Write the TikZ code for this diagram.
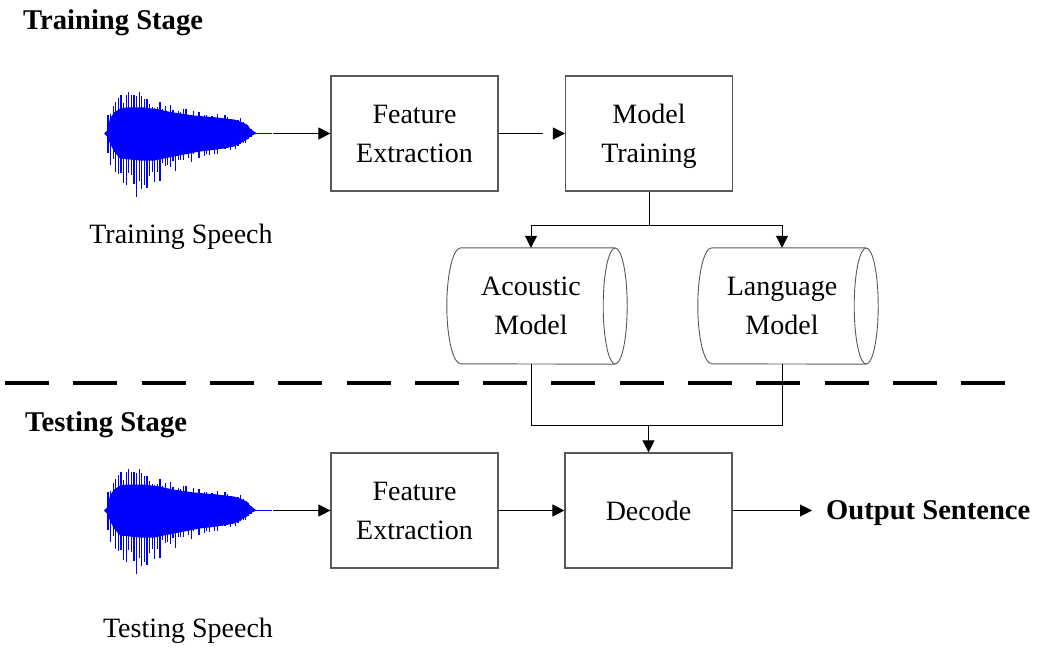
\documentclass[tikz,border=0pt]{standalone}
\usepackage{fontspec}
\setmainfont{Liberation Serif}
\usetikzlibrary{arrows.meta,calc}
\definecolor{wblue}{RGB}{0,0,255}
\tikzset{
 boxnode/.style={draw=black!65, line width=1.2pt, minimum width=167pt, minimum height=115pt, inner sep=0pt, align=center, font=\fontsize{28}{39}\selectfont},
 cylnode/.style={minimum width=140pt, minimum height=116pt, inner sep=0pt, align=center, font=\fontsize{28}{39}\selectfont},
 cylline/.style={draw=black!65, line width=0.9pt},
 conn/.style={line width=1pt, draw=black},
 arr/.style={conn, -{Triangle[length=12pt,width=12pt]}},
 lbl/.style={font=\fontsize{28}{39}\selectfont, inner sep=0pt},
 blbl/.style={font=\fontsize{28.6}{39}\selectfont\bfseries, inner sep=0pt},
 wave/.style={draw=wblue, line width=1.3pt},
 sepline/.style={line width=4pt, dash pattern=on 44pt off 24.3pt},
}
\newcommand\speechwave[2]{%
\begin{scope}[shift={(#1,#2)}]
 \pgfmathsetseed{42}
 \fill[wblue] (0,0) -- (3,-3) -- (6,-15) -- (10,-21) -- (16,-25) -- (22,-26) -- (40,-26) -- (55,-24) -- (69,-21) -- (90,-18) -- (113,-16) -- (130,-14) -- (136,-12) -- (143,-9) -- (146,-5) -- (150,-2) -- (153,0)
   -- (150,1) -- (146,3) -- (143,6) -- (136,10) -- (130,13) -- (113,16) -- (96,18) -- (70,23) -- (50,27) -- (36,27) -- (16,25) -- (10,18) -- (6,10) -- (3,3) -- cycle;
 \foreach \u in {4,6.6,...,150} {
  \pgfmathsetmacro\tp{((\u<33) ? 50*(\u/33)^0.35 : 14+36*exp(-(\u-33)/42))*min(1,(152-\u)/16)}
  \pgfmathsetmacro\bt{((\u<35) ? 68*(\u/35)^0.45 : 10+58*exp(-(\u-40)/42))*min(1,(152-\u)/16)}
  \pgfmathsetmacro\a{\tp*(0.68+0.32*rnd)}
  \pgfmathsetmacro\b{\bt*(0.62+0.38*rnd)}
  \draw[wave] (\u,-\a) -- (\u,\b);
 }
 \draw[wave, line width=0.8pt] (150,0) -- (168,0);
\end{scope}}
\newcommand\cylpath[1]{%
 \draw[cylline] ($(#1.north east)+(14,0)$) -- (#1.north west) arc[start angle=270,end angle=90,x radius=14,y radius=58] -- ($(#1.south east)+(14,0)$);
 \draw[cylline] ($(#1.east)+(14,0)$) ellipse[x radius=12,y radius=58];}
\begin{document}
\begin{tikzpicture}[x=1pt,y=-1pt]
\useasboundingbox (0,0) rectangle (1040,650);
% labels
\node[blbl, anchor=base west] (trs) at (23,30) {Training Stage};
\node[blbl, anchor=base west] (tes) at (25,431) {Testing Stage};
\node[lbl, anchor=base] (trsp) at (181,243) {Training Speech};
\node[lbl, anchor=base] (tesp) at (188,637) {Testing Speech};
\node[blbl, anchor=base west] (out) at (826,519) {Output Sentence};
% waveforms
\speechwave{104}{133.5}
\speechwave{104}{510.5}
% boxes
\node[boxnode] (fe1) at (414.5,133.5) {Feature\\Extraction};
\node[boxnode] (mt) at (649,133.5) {Model\\\raisebox{0pt}[\height][0pt]{Training}};
\node[boxnode] (fe2) at (414.5,510.5) {Feature\\Extraction};
\node[boxnode] (dec) at (648.5,510.5) {Decode};
% cylinders
\node[cylnode] (am) at (531,306) {Acoustic\\Model};
\node[cylnode] (lm) at (782,306) {Language\\Model};
\cylpath{am}
\cylpath{lm}
% separator
\coordinate (sepL) at (5,383);
\coordinate (sepR) at (1006,383);
\draw[sepline] (sepL) -- (sepR);
% connectors
\coordinate (w1) at (273,133.5);
\draw[arr] (w1) -- (fe1.west);
\draw[arr, dash pattern=on 44pt off 40pt] (fe1.east) -- (mt.west);
\draw[conn] (mt.south) -- ++(0,33.5) coordinate (sp);
\draw[arr] (sp) -| (am.north);
\draw[arr] (sp) -| (lm.north);
\draw[conn] (am.south) -- ++(0,61) coordinate (jn) -| (lm.south);
\draw[arr] (jn -| dec.north) -- (dec.north);
\coordinate (w2) at (273,510.5);
\draw[arr] (w2) -- (fe2.west);
\draw[arr] (fe2.east) -- (dec.west);
\draw[arr, shorten >=14pt] (dec.east) -- (dec.east -| out.west);
\end{tikzpicture}
\end{document}
